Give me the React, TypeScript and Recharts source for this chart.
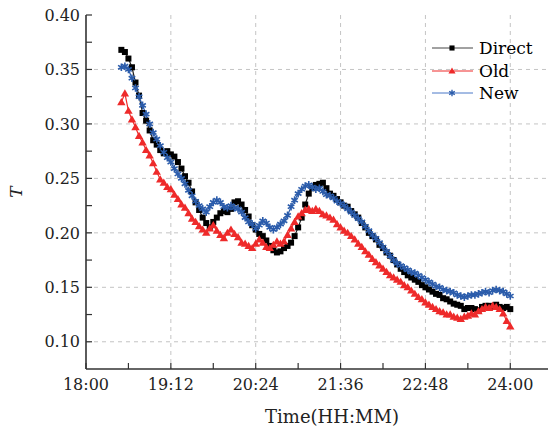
import { CartesianGrid, Label, Legend, Line, LineChart, XAxis, YAxis } from "recharts"

// sample times, minutes after 18:00
const minutes = [
  30, 33, 36, 39, 42, 45, 48, 51, 54, 57,
  60, 63, 66, 69, 72, 75, 78, 81, 84, 87,
  90, 93, 96, 99, 102, 105, 108, 111, 114, 117,
  120, 123, 126, 129, 132, 135, 138, 141, 144, 147,
  150, 153, 156, 159, 162, 165, 168, 171, 174, 177,
  180, 183, 186, 189, 192, 195, 198, 201, 204, 207,
  210, 213, 216, 219, 222, 225, 228, 231, 234, 237,
  240, 243, 246, 249, 252, 255, 258, 261, 264, 267,
  270, 273, 276, 279, 282, 285, 288, 291, 294, 297,
  300, 303, 306, 309, 312, 315, 318, 321, 324, 327,
  330, 333, 336, 339, 342, 345, 348, 351, 354, 357,
  360,
]

const directT = [
  0.368, 0.366, 0.360, 0.352, 0.338, 0.326, 0.310, 0.303, 0.294, 0.285,
  0.281, 0.276, 0.273, 0.275, 0.272, 0.270, 0.265, 0.259, 0.252, 0.246,
  0.238, 0.228, 0.221, 0.214, 0.209, 0.205, 0.210, 0.214, 0.218, 0.220,
  0.219, 0.222, 0.228, 0.229, 0.226, 0.221, 0.215, 0.207, 0.203, 0.199,
  0.197, 0.193, 0.188, 0.184, 0.182, 0.183, 0.186, 0.188, 0.191, 0.197,
  0.205, 0.214, 0.226, 0.236, 0.241, 0.244, 0.245, 0.246, 0.241, 0.236,
  0.234, 0.231, 0.228, 0.225, 0.224, 0.220, 0.217, 0.214, 0.209, 0.205,
  0.200, 0.197, 0.194, 0.189, 0.186, 0.182, 0.179, 0.175, 0.171, 0.167,
  0.164, 0.161, 0.159, 0.157, 0.155, 0.152, 0.150, 0.148, 0.146, 0.144,
  0.143, 0.140, 0.139, 0.137, 0.135, 0.134, 0.133, 0.130, 0.131, 0.131,
  0.130, 0.129, 0.132, 0.133, 0.133, 0.132, 0.134, 0.132, 0.131, 0.132,
  0.130,
]

const oldT = [
  0.320, 0.328, 0.312, 0.304, 0.297, 0.289, 0.283, 0.276, 0.271, 0.264,
  0.256, 0.249, 0.246, 0.242, 0.240, 0.235, 0.231, 0.226, 0.223, 0.218,
  0.213, 0.210, 0.206, 0.203, 0.200, 0.204, 0.207, 0.202, 0.198, 0.195,
  0.200, 0.203, 0.199, 0.196, 0.191, 0.190, 0.188, 0.186, 0.190, 0.194,
  0.191, 0.187, 0.186, 0.189, 0.192, 0.190, 0.192, 0.198, 0.204, 0.210,
  0.215, 0.218, 0.221, 0.222, 0.220, 0.222, 0.220, 0.217, 0.216, 0.214,
  0.212, 0.208, 0.205, 0.202, 0.200, 0.197, 0.194, 0.190, 0.187, 0.183,
  0.180, 0.176, 0.173, 0.170, 0.167, 0.164, 0.161, 0.159, 0.157, 0.155,
  0.152, 0.150, 0.147, 0.144, 0.141, 0.139, 0.136, 0.134, 0.132, 0.130,
  0.128, 0.127, 0.125, 0.125, 0.123, 0.122, 0.121, 0.123, 0.124, 0.126,
  0.125, 0.128, 0.130, 0.132, 0.131, 0.133, 0.132, 0.130, 0.126, 0.119,
  0.114,
]

const newT = [
  0.352, 0.353, 0.350, 0.342, 0.333, 0.325, 0.317, 0.309, 0.300, 0.292,
  0.286, 0.280, 0.274, 0.269, 0.265, 0.259, 0.254, 0.250, 0.245, 0.239,
  0.234, 0.229, 0.225, 0.222, 0.219, 0.224, 0.228, 0.230, 0.228, 0.224,
  0.223, 0.225, 0.223, 0.222, 0.219, 0.214, 0.210, 0.208, 0.204, 0.207,
  0.211, 0.209, 0.205, 0.203, 0.205, 0.208, 0.211, 0.216, 0.224, 0.230,
  0.236, 0.240, 0.243, 0.244, 0.242, 0.240, 0.241, 0.238, 0.235, 0.234,
  0.232, 0.229, 0.227, 0.225, 0.222, 0.219, 0.216, 0.213, 0.210, 0.206,
  0.202, 0.198, 0.195, 0.191, 0.187, 0.183, 0.179, 0.175, 0.172, 0.170,
  0.168, 0.166, 0.164, 0.163, 0.161, 0.159, 0.157, 0.155, 0.153, 0.151,
  0.150, 0.148, 0.147, 0.146, 0.145, 0.143, 0.142, 0.141, 0.142, 0.143,
  0.143, 0.144, 0.145, 0.146, 0.145, 0.147, 0.148, 0.147, 0.146, 0.144,
  0.142,
]

const xTicks = [0, 36, 72, 108, 144, 180, 216, 252, 288, 324, 360]
const xGrid = [72, 144, 216, 288, 360]
const yTicks = [0.1, 0.125, 0.15, 0.175, 0.2, 0.225, 0.25, 0.275, 0.3, 0.325, 0.35, 0.375, 0.4]
const yGrid = [0.1, 0.15, 0.2, 0.25, 0.3, 0.35]

const data = minutes.map((m, i) => ({ m, direct: directT[i], old: oldT[i], new: newT[i] }))

const FONT = "'DejaVu Serif', serif"
const AXIS = "#333"
const RED = "#ee2a2a"
const BLUE = "#2b5cab"

const clock = (m: number) => {
  if (m % 72 !== 0) return ""
  const h = 18 + Math.floor(m / 60)
  return `${h}:${String(m % 60).padStart(2, "0")}`
}

const yLabel = (v: number) => (Math.abs(v * 20 - Math.round(v * 20)) < 1e-6 ? v.toFixed(2) : "")

const Square = ({ cx, cy }: any) => <rect x={cx - 3} y={cy - 3} width={6} height={6} fill="#000" />

const Triangle = ({ cx, cy }: any) => (
  <path d={`M${cx},${cy - 4.2} L${cx + 4.2},${cy + 3} L${cx - 4.2},${cy + 3} Z`} fill={RED} />
)

const Star = ({ cx, cy }: any) => (
  <path
    d={`M${cx},${cy - 3.8} L${cx},${cy + 3.8} M${cx - 3.3},${cy - 1.9} L${cx + 3.3},${cy + 1.9} M${cx - 3.3},${cy + 1.9} L${cx + 3.3},${cy - 1.9}`}
    stroke={BLUE}
    strokeWidth={1.6}
    fill="none"
  />
)

const series = [
  { key: "direct", name: "Direct", line: "#222", legendLine: "#444", Marker: Square },
  { key: "old", name: "Old", line: RED, legendLine: RED, Marker: Triangle },
  { key: "new", name: "New", line: BLUE, legendLine: "#4a78c8", Marker: Star },
]

const renderLegend = () => (
  <div style={{ fontFamily: FONT, fontSize: 17, color: "#000" }}>
    {series.map((s) => (
      <div key={s.key} style={{ display: "flex", alignItems: "center", height: 22.5 }}>
        <svg width={45} height={22} style={{ overflow: "visible" }}>
          <line x1={2} x2={43} y1={11} y2={11} stroke={s.legendLine} strokeWidth={1} />
          <g transform="translate(22 11) scale(0.85) translate(-22 -11)">
            <s.Marker cx={22} cy={11} />
          </g>
        </svg>
        <span style={{ marginLeft: 4, lineHeight: "22px" }}>{s.name}</span>
      </div>
    ))}
  </div>
)

export default function App() {
  const tickStyle = { fontFamily: FONT, fontSize: 16, fill: "#222" }
  const axisLine = { stroke: AXIS, strokeWidth: 1.6 }
  const tickLine = { stroke: AXIS, strokeWidth: 1.2 }

  return (
    <div style={{ position: "absolute", left: 0, top: 0, width: 550, height: 430, background: "#fff" }}>
      <LineChart width={550} height={430} data={data} margin={{ top: 15, right: 2, bottom: 0, left: 0 }}>
        <CartesianGrid
          horizontalValues={yGrid}
          verticalValues={xGrid}
          stroke="#c4c4c4"
          strokeDasharray="4 4"
        />
        <XAxis
          dataKey="m"
          type="number"
          domain={[0, 392]}
          allowDataOverflow
          ticks={xTicks}
          interval={0}
          tickFormatter={clock}
          tick={tickStyle}
          tickSize={-6}
          tickMargin={16}
          axisLine={axisLine}
          tickLine={tickLine}
          height={61}
        >
          <Label
            content={({ viewBox }: any) => (
              <text
                x={viewBox.x + viewBox.width / 2 + 15}
                y={viewBox.y + 54}
                textAnchor="middle"
                fontFamily={FONT}
                fontSize={18}
                fill="#222"
              >
                Time(HH:MM)
              </text>
            )}
          />
        </XAxis>
        <XAxis
          xAxisId="top"
          orientation="top"
          dataKey="m"
          type="number"
          domain={[0, 392]}
          allowDataOverflow
          ticks={xTicks}
          interval={0}
          tickFormatter={() => ""}
          tickSize={-6}
          axisLine={axisLine}
          tickLine={tickLine}
          height={0}
        />
        <YAxis
          type="number"
          domain={[0.075, 0.4]}
          allowDataOverflow
          ticks={yTicks}
          interval={0}
          tickFormatter={yLabel}
          tick={tickStyle}
          tickSize={-6}
          tickMargin={12}
          axisLine={axisLine}
          tickLine={tickLine}
          width={86}
        >
          <Label
            content={({ viewBox }: any) => {
              const x = viewBox.x + 16
              const y = viewBox.y + viewBox.height / 2
              return (
                <text
                  x={x}
                  y={y}
                  transform={`rotate(-90, ${x}, ${y})`}
                  textAnchor="middle"
                  dominantBaseline="central"
                  fontFamily={FONT}
                  fontStyle="italic"
                  fontSize={17}
                  fill="#222"
                >
                  T
                </text>
              )
            }}
          />
        </YAxis>
        <YAxis
          yAxisId="right"
          orientation="right"
          type="number"
          domain={[0.075, 0.4]}
          allowDataOverflow
          ticks={yTicks}
          interval={0}
          tickFormatter={() => ""}
          tickSize={-6}
          axisLine={axisLine}
          tickLine={tickLine}
          width={0}
        />
        <Legend
          layout="vertical"
          align="center"
          verticalAlign="middle"
          content={renderLegend}
          wrapperStyle={{ left: 430, top: 37, width: 120, height: 70 }}
        />
        {series.map((s) => (
          <Line
            key={s.key}
            dataKey={s.key}
            name={s.name}
            stroke={s.line}
            strokeWidth={1.2}
            isAnimationActive={false}
            activeDot={false}
            dot={(p: any) => <s.Marker key={`${s.key}-${p.index}`} cx={p.cx} cy={p.cy} />}
          />
        ))}
      </LineChart>
    </div>
  )
}
